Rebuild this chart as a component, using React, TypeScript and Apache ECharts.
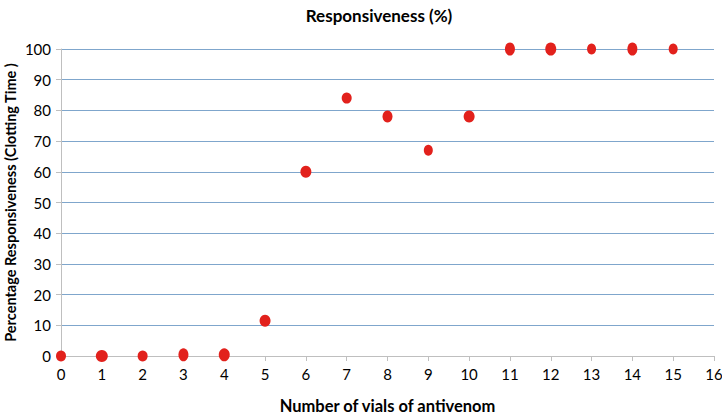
import React, { useEffect, useRef } from "react";
import * as echarts from "echarts";

const vials = [0, 1, 2, 3, 4, 5, 6, 7, 8, 9, 10, 11, 12, 13, 14, 15];
const responsiveness = [0, 0, 0, 0.4, 0.4, 11.5, 60, 84, 78, 67, 78, 100, 100, 100, 100, 100];
const markerSizes: [number, number][] = [
  [10, 11], [12, 12], [10, 11], [10, 13], [11, 13], [11, 12], [11, 12], [10, 11],
  [10, 12], [9, 11], [11, 12], [10, 13], [11, 13], [9, 11], [10, 13], [9, 11],
];

const titleText = "Responsiveness (%)";
const xName = "Number of vials of antivenom";
const yName = "Percentage Responsiveness (Clotting Time )";

export default function App() {
  const ref = useRef<HTMLDivElement>(null);
  useEffect(() => {
    if (!ref.current) return;
    const chart = echarts.init(ref.current, null, { renderer: "svg" });
    const font = "Lato, 'Open Sans', sans-serif";
    chart.setOption({
      animation: false,
      backgroundColor: "#ffffff",
      title: {
        text: titleText,
        left: 374,
        textAlign: "center",
        top: 2,
        textStyle: { fontFamily: font, fontSize: 17, fontWeight: "bold", color: "#000" },
      },
      grid: { left: 61, right: 8, top: 49, bottom: 59, outerBoundsMode: "none" },
      xAxis: {
        type: "value",
        min: 0,
        max: 16,
        interval: 1,
        name: xName,
        nameLocation: "middle",
        nameGap: 41,
        nameTextStyle: { fontFamily: font, fontSize: 16.5, fontWeight: "bold", color: "#000" },
        axisLine: { show: true, lineStyle: { color: "#bfbfbf", width: 1 } },
        axisTick: { show: true, length: 5, lineStyle: { color: "#bfbfbf" } },
        axisLabel: { fontFamily: font, fontSize: 15, color: "#000", margin: 10 },
        splitLine: { show: false },
      },
      yAxis: {
        type: "value",
        min: 0,
        max: 100,
        interval: 10,
        name: yName,
        nameLocation: "middle",
        nameGap: 43,
        nameMoveOverlap: false,
        nameRotate: 90,
        nameTextStyle: { fontFamily: font, fontSize: 14.5, fontWeight: "bold", color: "#000" },
        axisLine: { show: true, lineStyle: { color: "#bfbfbf", width: 1 } },
        axisTick: { show: true, length: 5, lineStyle: { color: "#bfbfbf" } },
        axisLabel: { fontFamily: font, fontSize: 15, color: "#000", margin: 10 },
        splitLine: { show: true, lineStyle: { color: "#7fa6cc", width: 1 } },
      },
      series: [
        {
          type: "scatter",
          clip: false,
          data: vials.map((v, i) => ({
            value: [v, responsiveness[i]],
            symbolSize: markerSizes[i],
          })),
          symbol: "circle",
          itemStyle: { color: "#e2211c", opacity: 1 },
        },
      ],
    });
    return () => chart.dispose();
  }, []);
  return (
    <div
      ref={ref}
      style={{ position: "fixed", left: 0, top: 0, width: 722, height: 415 }}
    />
  );
}
